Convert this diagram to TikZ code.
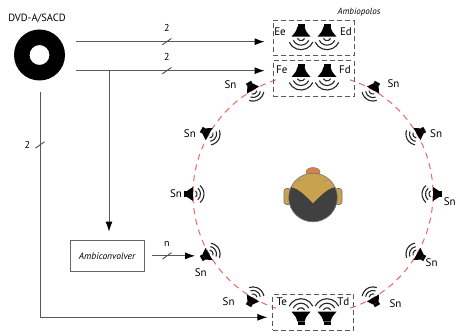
\documentclass[tikz,border=0pt]{standalone}
\usepackage{fontspec}
\setmainfont{PT Sans}
\usetikzlibrary{arrows.meta}

\definecolor{skin}{HTML}{C9A24F}
\definecolor{hair}{HTML}{404040}
\definecolor{nose}{HTML}{D9804A}
\definecolor{ringred}{HTML}{F06464}

\begin{document}
\begin{tikzpicture}[x=1pt,y=1pt,
    >={Latex[length=10pt,width=7pt,color=black]},
    lbl/.style={font=\fontsize{11}{12}\selectfont, inner sep=0pt},
    num/.style={font=\fontsize{10}{12}\selectfont, inner sep=0pt},
    sig/.style={draw=black!65, line width=0.9pt, ->},
    grp/.style={draw=black!65, dash pattern=on 5pt off 3pt, line width=0.9pt,
      minimum width=81pt, inner sep=0pt},
    ringline/.style={ringred, dash pattern=on 6pt off 5pt, line width=1pt},
    wave/.style={black!85, line width=1.1pt},
    bus/.pic={\draw[black!70, line width=0.9pt] (-4.5,-3.2) -- (4.5,3.2);},
    spk/.pic={
      \fill (-9,-3) rectangle (-6,3);
      \fill (-6,-3) -- (0,-7) -- (0,7) -- (-6,3) -- cycle;
      \foreach \r in {4,7.5,11}
        \draw[wave] (-50:\r) arc[start angle=-50, end angle=50, radius=\r];
    },
    horn/.pic={
      \fill (-13,-3.5) rectangle (-10,3.5);
      \fill (-10,-3.5) .. controls (-6,-4.5) .. (0,-9.5) -- (0,9.5) .. controls (-6,4.5) .. (-10,3.5) -- cycle;
      \foreach \r in {4,8.5,13}
        \draw[wave] (-65:\r) arc[start angle=-65, end angle=65, radius=\r];
    }]
  \useasboundingbox (0,0) rectangle (458,332);

  % source disc
  \coordinate (disc) at (39.5,277);
  \fill[even odd rule] (disc) circle[radius=25.5] (disc) circle[radius=10];
  \node[font=\fontsize{10.5}{12}\selectfont] (dvd) at (37,313) {DVD-A/SACD};

  % listening circle
  \coordinate (ring) at (313,138);
  \draw[ringline] (ring) ++(-72:120) arc[start angle=-72, end angle=72, radius=120];
  \draw[ringline] (ring) ++(108:120) arc[start angle=108, end angle=252, radius=120];

  % surround speakers
  \foreach \a/\l in {0/-3,30/26,60/54,120/127,150/154,180/180,210/215,240/232,300/307,330/330}{
    \coordinate (s\a) at ([shift={(\a:120)}]ring);
    \pic[rotate=\a+180] at (s\a) {spk};
    \node[lbl] (sn\a) at ([shift={(\l:137)}]ring) {Sn};
  }

  % ambiopolos pairs
  \node[grp, minimum height=35.3pt] (boxE) at (313.5,293.7) {};
  \node[grp, minimum height=36pt] (boxF) at (313.5,253.3) {};
  \node[grp, minimum height=35.7pt] (boxT) at (313.3,19.85) {};
  \foreach \x in {301,327}{
    \pic[rotate=-90] at (\x,295.3) {horn};
    \pic[rotate=-90] at (\x,255) {horn};
    \pic[rotate=90] at (\x,20.3) {horn};
  }
  \node[lbl] (lEe) at (280,300.3) {Ee};
  \node[lbl] (lEd) at (346,300.3) {Ed};
  \node[lbl] (lFe) at (281.7,262) {Fe};
  \node[lbl] (lFd) at (345,262) {Fd};
  \node[lbl] (lTe) at (281.7,30.3) {Te};
  \node[lbl] (lTd) at (343.3,30.3) {Td};
  \node[font=\itshape\fontsize{9}{10}\selectfont, anchor=west] (amb) at (334,319.3) {Ambiopolos};

  % listener seen from above
  \begin{scope}[shift={(313,134.5)}]
    \filldraw[fill=nose, draw=black!50, line width=0.5pt] (0,25.5) ellipse[x radius=7, y radius=4.5];
    \filldraw[fill=skin, draw=black!55, line width=0.6pt, rounded corners=2.5pt] (-29,-7) rectangle (-22,9);
    \filldraw[fill=skin, draw=black!55, line width=0.6pt, rounded corners=2.5pt] (22,-7) rectangle (29,9);
    \fill[skin] (0,0) circle[radius=24.3];
    \fill[hair] (155:24.3) .. controls (-14,9) and (-6,0) .. (0,-6)
      .. controls (6,0) and (14,9) .. (25:24.3)
      arc[start angle=25, end angle=-205, radius=24.3] -- cycle;
    \draw[black!55, line width=0.6pt] (0,0) circle[radius=24.3];
    \draw[black!45, line width=0.5pt] (-15,17) -- (-10,17.5) (10,17.5) -- (15,17);
  \end{scope}

  % signal paths
  \coordinate (outE) at (76,290.3);
  \coordinate (outF) at (76,261.3);
  \coordinate (outT) at (40,240.3);
  \coordinate (low) at (40,14.7);
  \coordinate (tap) at (109,261.3);
  \node[draw=black!60, line width=0.8pt, minimum width=74pt, minimum height=31.7pt,
    font=\itshape\fontsize{9.5}{11}\selectfont] (conv) at (107,76.15) {Ambiconvolver};

  \draw[sig, shorten >=8pt] (outE) -- coordinate[pos=.462] (busE) (outE -| boxE.west);
  \draw[sig, shorten >=8pt] (outF) -- coordinate[pos=.462] (busF) (outF -| boxF.west);
  \draw[sig, shorten >=8pt] (tap) -- (tap |- conv.north);
  \draw[sig, shorten <=7.7pt, shorten >=14pt] (conv.east) -- coordinate[pos=.349] (busN) (conv.east -| s210);
  \draw[sig, shorten >=5pt] (outT) -- coordinate[pos=.236] (busT) (low) -- (low -| boxT.west);

  \pic at (busE) {bus};
  \pic at (busF) {bus};
  \pic at (busN) {bus};
  \pic at (busT) {bus};
  \node[num] (nE) at ([yshift=13.4]busE) {2};
  \node[num] (nF) at ([yshift=13.4]busF) {2};
  \node[num] (nN) at ([yshift=12.4]busN) {n};
  \node[num] (nT) at ([xshift=-12.6]busT) {2};
\end{tikzpicture}
\end{document}
